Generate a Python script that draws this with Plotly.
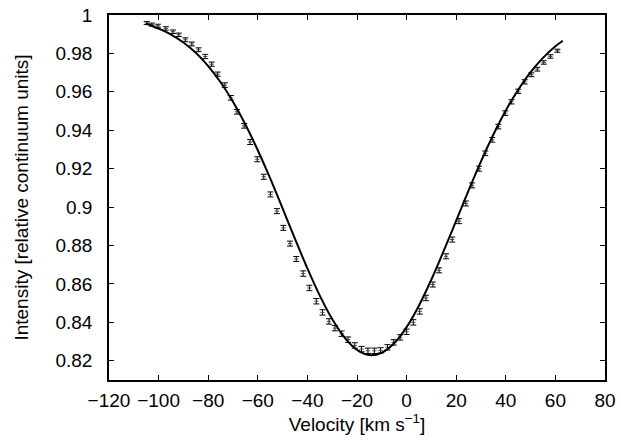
import plotly.graph_objects as go

# Observed profile (velocity in km/s, intensity in continuum units)
obs_velocity = [-104.8, -102.7, -100.3, -97.1, -94.2, -91.9, -89.2, -86.6, -83.9, -81.2,
                -78.6, -76.2, -73.3, -70.9, -68.4, -65.5, -63.1, -60.2, -57.6, -54.9,
                -52.3, -49.7, -47.0, -44.5, -41.7, -39.2, -36.4, -33.9, -31.3, -28.9,
                -26.2, -23.6, -20.9, -18.2, -15.6, -13.0, -10.5, -7.7, -5.2, -2.6,
                0.0, 2.7, 5.3, 7.8, 10.6, 13.1, 15.9, 18.4, 21.1, 23.9,
                26.4, 29.2, 31.7, 34.5, 37.0, 39.8, 42.3, 45.0, 47.6, 50.3,
                52.7, 55.3, 58.0, 60.8]
obs_intensity = [0.9958, 0.9950, 0.9944, 0.9930, 0.9913, 0.9897, 0.9871, 0.9849, 0.9819, 0.9784,
                 0.9744, 0.9692, 0.9635, 0.9569, 0.9496, 0.9423, 0.9339, 0.9249, 0.9158, 0.9066,
                 0.8979, 0.8892, 0.8810, 0.8730, 0.8654, 0.8579, 0.8510, 0.8452, 0.8405, 0.8370,
                 0.8341, 0.8310, 0.8280, 0.8261, 0.8252, 0.8252, 0.8254, 0.8270, 0.8296, 0.8322,
                 0.8351, 0.8400, 0.8457, 0.8527, 0.8597, 0.8671, 0.8744, 0.8831, 0.8927, 0.9019,
                 0.9113, 0.9200, 0.9280, 0.9350, 0.9419, 0.9489, 0.9548, 0.9603, 0.9652, 0.9689,
                 0.9718, 0.9753, 0.9784, 0.9814]
obs_error = [0.0008, 0.0008, 0.0008, 0.0009, 0.0009, 0.0009, 0.0010, 0.0010, 0.0010, 0.0011,
             0.0011, 0.0011, 0.0012, 0.0012, 0.0012, 0.0012, 0.0013, 0.0013, 0.0013, 0.0013,
             0.0013, 0.0013, 0.0013, 0.0013, 0.0014, 0.0014, 0.0014, 0.0014, 0.0014, 0.0014,
             0.0014, 0.0014, 0.0014, 0.0014, 0.0014, 0.0014, 0.0014, 0.0014, 0.0014, 0.0014,
             0.0014, 0.0014, 0.0014, 0.0014, 0.0013, 0.0013, 0.0013, 0.0013, 0.0013, 0.0013,
             0.0013, 0.0013, 0.0012, 0.0012, 0.0012, 0.0012, 0.0011, 0.0011, 0.0011, 0.0010,
             0.0010, 0.0009, 0.0009, 0.0008]

# Model fit curve
fit_velocity = [-105, -100, -95, -90, -85, -80, -75, -70, -65, -60, -55, -50, -45, -40,
                -35, -30, -25, -20, -15, -10, -5, 0, 5, 10, 15, 20, 25, 30, 35, 40,
                45, 50, 55, 60, 63]
fit_intensity = [0.9956, 0.9929, 0.9898, 0.9857, 0.9803, 0.9734, 0.9650, 0.9548, 0.9430, 0.9296,
                 0.9149, 0.8993, 0.8835, 0.8681, 0.8539, 0.8417, 0.8321, 0.8257, 0.8230, 0.8242,
                 0.8291, 0.8375, 0.8488, 0.8623, 0.8773, 0.8930, 0.9087, 0.9238, 0.9378, 0.9503,
                 0.9611, 0.9703, 0.9777, 0.9837, 0.9866]

x_ticks = [-120, -100, -80, -60, -40, -20, 0, 20, 40, 60, 80]
y_ticks = [0.82, 0.84, 0.86, 0.88, 0.90, 0.92, 0.94, 0.96, 0.98, 1.00]
y_ticktext = ["0.82", "0.84", "0.86", "0.88", "0.9", "0.92", "0.94", "0.96", "0.98", "1"]

FONT = "Liberation Sans, Arial, sans-serif"

fig = go.Figure()
fig.add_trace(go.Scatter(
    x=obs_velocity, y=obs_intensity, mode="markers",
    marker=dict(symbol="line-ew", size=3, color="#444444", line=dict(width=1, color="#444444")),
    error_y=dict(type="data", array=obs_error, visible=True, color="black", thickness=1, width=3),
    showlegend=False,
))
fig.add_trace(go.Scatter(
    x=fit_velocity, y=fit_intensity, mode="lines",
    line=dict(color="black", width=2, shape="spline"),
    showlegend=False,
))

axis_common = dict(
    showgrid=False, zeroline=False, showline=True, linecolor="black", linewidth=1.5,
    mirror="ticks", ticks="inside", ticklen=5, tickwidth=1, tickcolor="black",
    automargin=False, ticklabeloverflow="allow",
    tickfont=dict(family=FONT, size=19, color="black"),
)
fig.update_xaxes(range=[-120, 80], tickvals=x_ticks, ticklabelstandoff=2,
                 title=dict(text="Velocity [km s<sup>−1</sup>]", standoff=6,
                            font=dict(family=FONT, size=19, color="black")),
                 **axis_common)
fig.update_yaxes(range=[0.81, 1.0], tickvals=y_ticks, ticktext=y_ticktext, ticklabelstandoff=11,
                 title=dict(text="Intensity [relative continuum units]", standoff=22,
                            font=dict(family=FONT, size=19, color="black")),
                 **axis_common)
fig.update_layout(
    width=621, height=443,
    margin=dict(l=109, r=16, t=15, b=63),
    plot_bgcolor="white", paper_bgcolor="white",
)
# remove the default page margin so the figure fills the window exactly
fig.write_html("out.html", config={"displayModeBar": False},
               post_script="document.body.style.margin='0';")
